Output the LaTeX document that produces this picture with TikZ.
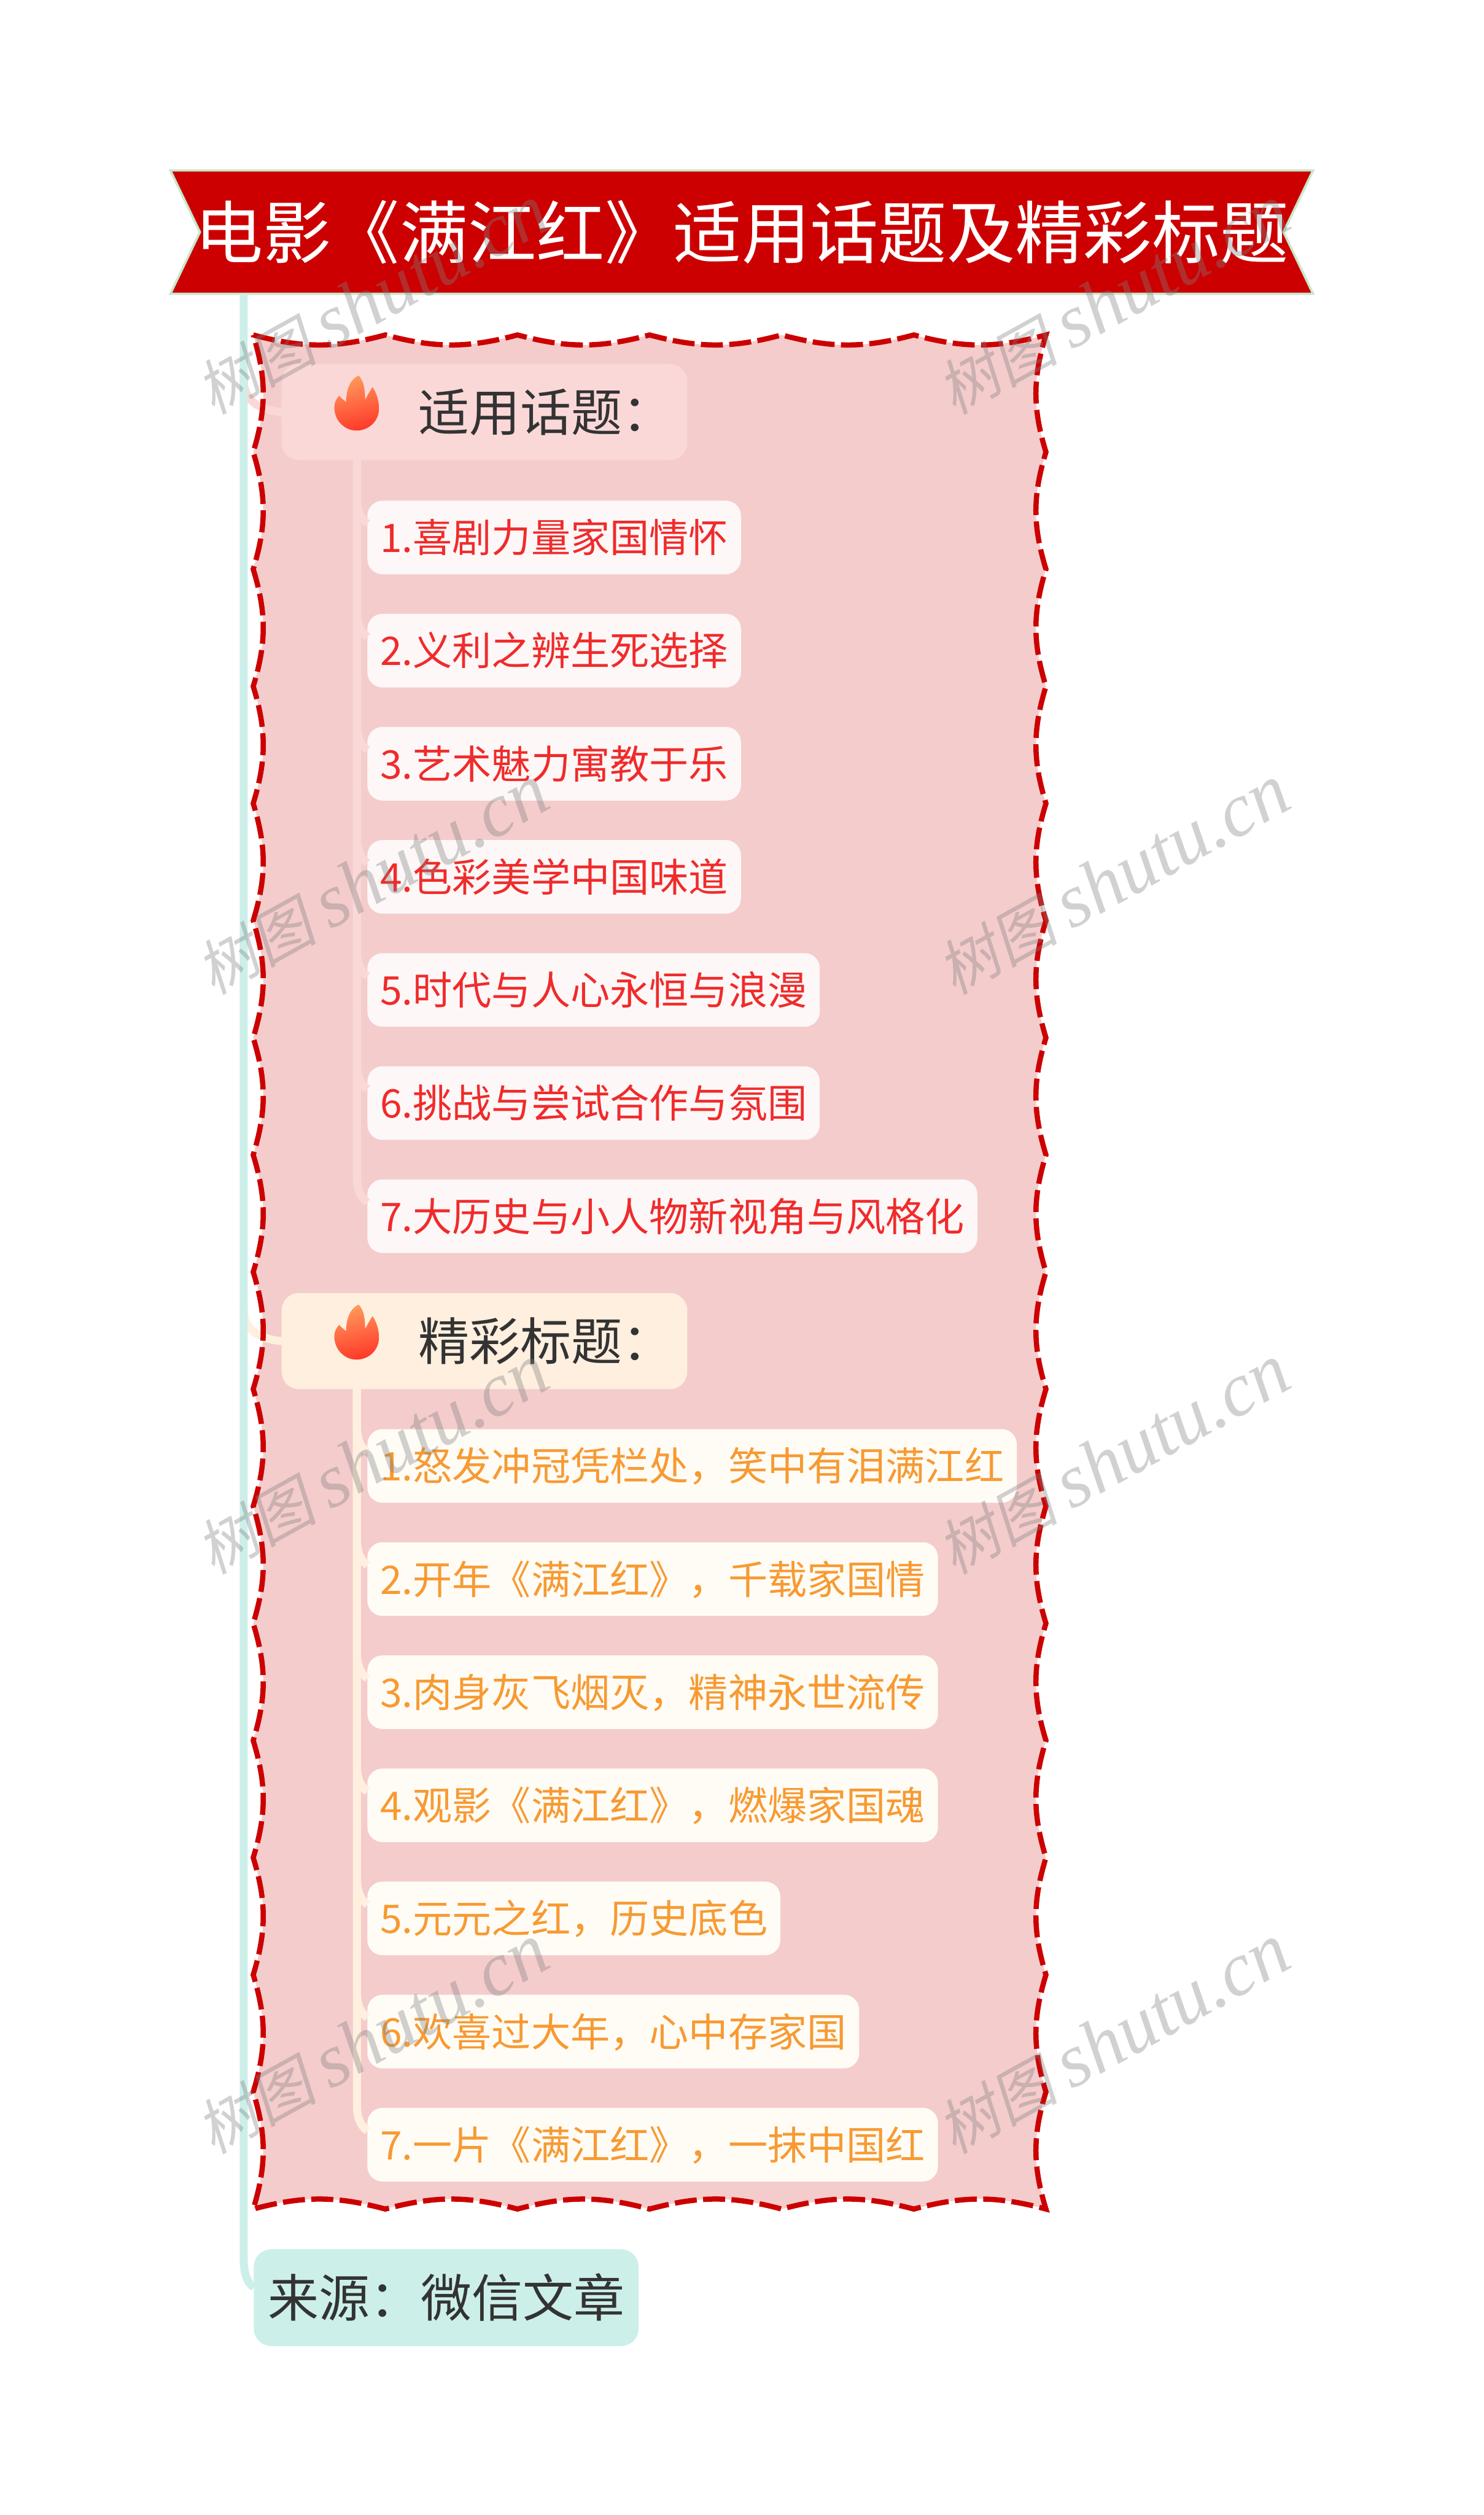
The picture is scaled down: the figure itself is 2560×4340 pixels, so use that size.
\documentclass[tikz,border=0pt]{standalone}
\usepackage{fontspec}
\setmainfont{Noto Sans CJK SC}
\newfontfamily\wmcjk[FakeSlant=0.2]{Noto Sans CJK SC}
\newfontfamily\wmlatin{Liberation Serif}
\usetikzlibrary{positioning,backgrounds}

\definecolor{bannerred}{HTML}{CC0000}
\definecolor{bannerline}{HTML}{C8E8CC}
\definecolor{boxpink}{HTML}{F4CCCC}
\definecolor{spinegreen}{HTML}{CCEFE9}
\definecolor{inktext}{HTML}{333333}
\definecolor{headred}{HTML}{FBD8D8}
\definecolor{itemred}{HTML}{FDF7F7}
\definecolor{textred}{HTML}{F02B2B}
\definecolor{headorange}{HTML}{FFEFDF}
\definecolor{itemorange}{HTML}{FFFCF6}
\definecolor{textorange}{HTML}{F79A32}
\definecolor{flametop}{HTML}{FF9A5C}
\definecolor{flamebottom}{HTML}{FF3A2A}

\newcommand{\fwcomma}{\char"FF0C\relax}
\newcommand{\fwcolon}{\char"FF1A\relax}
\newcommand{\wavypath}{(437,578)
	\foreach \i in {1,...,6} {to[bend right=15] ++(228,0)}
	\foreach \i in {1,...,16} {to[bend right=17] ++(0,202.125)}
	\foreach \i in {1,...,6} {to[bend right=15] ++(-228,0)}
	\foreach \i in {1,...,16} {to[bend right=17] ++(0,-202.125)} -- cycle}

\begin{document}
\begin{tikzpicture}[x=1pt,y=-1pt,
	every node/.style={outer sep=0pt},
	rootbox/.style={minimum width=1972pt,minimum height=213pt,inner sep=0pt,text=white,font=\fontsize{118}{130}\selectfont,text height=101.5pt,text depth=11.8pt},
	head/.style={rounded corners=30pt,minimum height=166pt,inner xsep=24pt,inner ysep=0pt,text=inktext,font=\fontsize{88}{100}\selectfont,text height=75.7pt,text depth=8.8pt},
	redhead/.style={head,fill=headred},
	orangehead/.style={head,fill=headorange},
	source/.style={head,fill=spinegreen,minimum height=167pt},
	item/.style={rounded corners=26pt,minimum height=127pt,inner xsep=22pt,inner ysep=0pt,font=\fontsize{68}{80}\selectfont,text height=58.5pt,text depth=6.8pt},
	reditem/.style={item,fill=itemred,text=textred},
	orangeitem/.style={item,fill=itemorange,text=textorange},
	next/.style={below=68.2pt of #1.south west,anchor=north west},
	link/.style={line width=14pt},
	watermark/.style={rotate=29,opacity=.36,text=gray,inner sep=0pt},
	flame/.pic={
		\shade[top color=flametop,bottom color=flamebottom,shading angle=15]
		(3,-47) .. controls (-8,-42) and (-18,-30) .. (-19,-1)
		.. controls (-22,-4) and (-27,-8) .. (-31,-12)
		.. controls (-36,-6) and (-39,0) .. (-39,8)
		.. controls (-39,32) and (-20,48) .. (-1,48)
		.. controls (20,48) and (38,32) .. (38,10)
		.. controls (38,-5) and (33,-18) .. (27,-27)
		.. controls (22,-20) and (18,-12) .. (14,-5)
		.. controls (14,-20) and (13,-36) .. (3,-47) -- cycle;
	}]
	\useasboundingbox (0,0) rectangle (2560,4340);

	\node[rootbox] (root) at (1280,400.5) {电影《满江红》适用话题及精彩标题};

	\node[redhead,anchor=west] (h1) at (486,711) {\hspace*{212pt}适用话题\fwcolon};
	\node[reditem] (r1) [below right=70pt and 148pt of h1.south west] {1.喜剧力量家国情怀};
	\node[reditem] (r2) [next=r1] {2.义利之辨生死选择};
	\node[reditem] (r3) [next=r2] {3.艺术魅力寓教于乐};
	\node[reditem] (r4) [next=r3] {4.色彩美学中国味道};
	\node[reditem] (r5) [next=r4] {5.时代与人心永恒与浪漫};
	\node[reditem] (r6) [next=r5] {6.挑战与尝试合作与氛围};
	\node[reditem] (r7) [next=r6] {7.大历史与小人物新视角与风格化};

	\node[orangehead] (h2) [below left=69pt and 148pt of r7.south west,anchor=north west] {\hspace*{212pt}精彩标题\fwcolon};
	\node[orangeitem] (o1) [below right=69pt and 148pt of h2.south west] {1.怒发冲冠凭栏处\fwcomma 笑中有泪满江红};
	\node[orangeitem] (o2) [next=o1] {2.开年《满江红》\fwcomma 千载家国情};
	\node[orangeitem] (o3) [next=o2] {3.肉身灰飞烟灭\fwcomma 精神永世流传};
	\node[orangeitem] (o4) [next=o3] {4.观影《满江红》\fwcomma 燃爆家国魂};
	\node[orangeitem] (o5) [next=o4] {5.元元之红\fwcomma 历史底色};
	\node[orangeitem] (o6) [next=o5] {6.欢喜过大年\fwcomma 心中存家国};
	\node[orangeitem] (o7) [next=o6] {7.一片《满江红》\fwcomma 一抹中国红};

	\node[source] (src) [below left=117pt and 196pt of o7.south west,anchor=north west] {来源\fwcolon 微信文章};

	\begin{pgfonlayer}{background}
		\filldraw[fill=bannerred,draw=bannerline,line width=4pt]
		(root.north west) -- (root.north east) -- ([xshift=-51pt]root.east)
		-- (root.south east) -- (root.south west) -- ([xshift=51pt]root.west) -- cycle;
		\fill[boxpink] \wavypath;
	\end{pgfonlayer}

	\coordinate (spine) at (420.5,0);
	\coordinate (rstem) at ([xshift=130pt]h1.south west);
	\coordinate (ostem) at ([xshift=130pt]h2.south west);

	\foreach \sec/\col in {h1/headred,h2/headorange}
		\draw[link,\col] ([yshift=55pt]spine |- \sec.west)
		.. controls ([yshift=12pt]spine |- \sec.west) and ([xshift=-25pt,yshift=2pt]\sec.west) .. (\sec.west);
	% main line down to the source box
	\draw[link,spinegreen] (spine |- root.south) -- ([yshift=68pt]spine |- src.west)
	.. controls ([yshift=32pt]spine |- src.west) and ([xshift=-6pt,yshift=22pt]src.west) .. ([yshift=18pt]src.west);
	\foreach \k in {1,...,7} {
		\draw[link,headred] (rstem) -- ([yshift=69pt]rstem |- r\k.west)
		.. controls ([yshift=40pt]rstem |- r\k.west) and ([xshift=-8pt,yshift=30pt]r\k.west) .. ([yshift=24pt]r\k.west);
		\draw[link,headorange] (ostem) -- ([yshift=69pt]ostem |- o\k.west)
		.. controls ([yshift=40pt]ostem |- o\k.west) and ([xshift=-8pt,yshift=30pt]o\k.west) .. ([yshift=24pt]o\k.west);
	}

	\draw[bannerred,line width=9pt,dash pattern=on 38pt off 11pt] \wavypath;

	\pic at ([yshift=16pt]rstem |- h1.west) {flame};
	\pic at ([yshift=16pt]ostem |- h2.west) {flame};

	\foreach \r in {0,...,4}
		\foreach \c in {0,1}
			\node[watermark] (wm\r\c) at (642+1279*\c,518+1000.5*\r) {{\wmcjk\fontsize{104}{110}\selectfont 树图}\hspace{24pt}{\wmlatin\itshape\fontsize{131}{136}\selectfont shutu.cn}};
\end{tikzpicture}
\end{document}
